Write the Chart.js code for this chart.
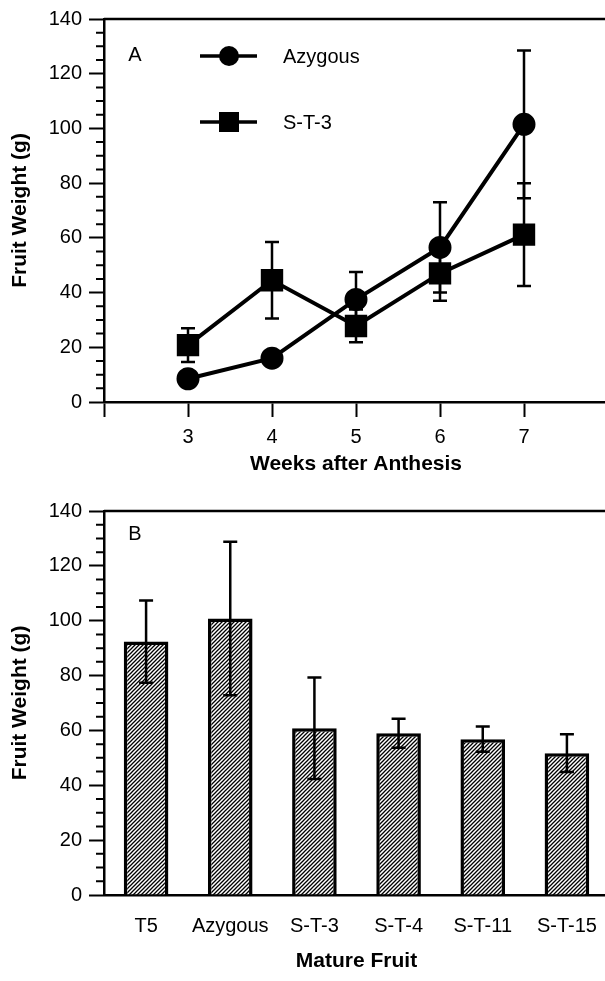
<!DOCTYPE html>
<html>
<head>
<meta charset="utf-8">
<script src="https://cdn.jsdelivr.net/npm/chart.js@4.4.1/dist/chart.umd.min.js"></script>
<style>
html { margin: 0; padding: 0; overflow: hidden; background: #fff; }
body { margin: 0; padding: 0; background: #fff; width: 620px; height: 981px; position: relative; }
canvas { position: absolute; left: 0; }
#chartA { top: 0; }
#chartB { top: 480px; }
</style>
</head>
<body>
<canvas id="chartA" width="620" height="480"></canvas>
<canvas id="chartB" width="620" height="501"></canvas>
<script>
// panel A - weeks after anthesis
const weeks = [3, 4, 5, 6, 7];
const weekTicks = [3, 4, 5, 6, 7];
const azygousWeight = [8.5, 16, 37.5, 56.5, 101.5];
const azygousErr = [1.5, 2, 10, 16.5, 27];
const st3Weight = [20.8, 44.5, 27.8, 47, 61.2];
const st3Err = [6.2, 14, 6, 10, 18.8];

// panel B - mature fruit
const matureLines = ['T5', 'Azygous', 'S-T-3', 'S-T-4', 'S-T-11', 'S-T-15'];
const matureWeight = [92.4, 100.8, 60.8, 59, 56.8, 51.7];
const matureErr = [15, 28, 18.5, 5.3, 4.6, 6.9];

const FONT = "'Liberation Sans', Arial, sans-serif";
Chart.defaults.font.family = FONT;
Chart.defaults.color = '#000';

// hatched fill for the bars
function hatch() {
    const c = document.createElement('canvas');
    c.width = 4; c.height = 4;
    const g = c.getContext('2d');
    g.fillStyle = '#fff';
    g.fillRect(0, 0, 4, 4);
    g.strokeStyle = '#000';
    g.lineWidth = 1.3;
    g.beginPath();
    g.moveTo(0, 4); g.lineTo(4, 0);
    g.moveTo(-1, 1); g.lineTo(1, -1);
    g.moveTo(3, 5); g.lineTo(5, 3);
    g.stroke();
    return g.createPattern(c, 'repeat');
}

function drawErrors(chart) {
    const ctx = chart.ctx;
    const y = chart.scales.y;
    ctx.save();
    ctx.strokeStyle = '#000';
    ctx.lineWidth = 2.5;
    chart.data.datasets.forEach((ds, di) => {
        if (!ds.err) return;
        const meta = chart.getDatasetMeta(di);
        meta.data.forEach((el, i) => {
            const v = ds.values[i], e = ds.err[i];
            const top = y.getPixelForValue(v + e), bot = y.getPixelForValue(v - e);
            ctx.beginPath();
            ctx.moveTo(el.x, top); ctx.lineTo(el.x, bot);
            ctx.moveTo(el.x - 7, top); ctx.lineTo(el.x + 7, top);
            ctx.moveTo(el.x - 7, bot); ctx.lineTo(el.x + 7, bot);
            ctx.stroke();
        });
    });
    ctx.restore();
}

const errorBars = {
    id: 'errorBars',
    beforeDatasetsDraw(chart, args, opts) { if (opts.behind) drawErrors(chart); },
    afterDatasetsDraw(chart, args, opts) { if (!opts.behind) drawErrors(chart); }
};

// frame top line, minor ticks, panel letter and the inset legend
const decor = {
    id: 'decor',
    afterDraw(chart, args, opts) {
        const ctx = chart.ctx;
        const a = chart.chartArea;
        const y = chart.scales.y;
        ctx.save();
        ctx.strokeStyle = '#000';
        ctx.lineWidth = 2.5;
        ctx.beginPath();
        ctx.moveTo(a.left, a.top); ctx.lineTo(a.right, a.top);
        if (opts.rightEdge) {
            ctx.moveTo(a.right, a.top); ctx.lineTo(a.right, a.bottom);
        }
        ctx.stroke();
        ctx.lineWidth = 2;
        ctx.beginPath();
        for (let v = 0; v <= 140; v += 5) {
            if (v % 20 === 0) continue;
            const py = y.getPixelForValue(v);
            ctx.moveTo(a.left - 8, py); ctx.lineTo(a.left, py);
        }
        ctx.stroke();

        ctx.fillStyle = '#000';
        ctx.font = '20px ' + FONT;
        ctx.textBaseline = 'middle';
        ctx.textAlign = 'center';
        ctx.fillText(opts.letter, a.left + 31, a.top + opts.letterY);

        if (opts.legend) {
            ctx.textAlign = 'left';
            ctx.font = '20px ' + FONT;
            chart.data.datasets.forEach((ds, i) => {
                const ly = a.top + 37 + i * 66;
                const cx = a.left + 125;
                ctx.lineWidth = 3.5;
                ctx.beginPath();
                ctx.moveTo(cx - 29, ly); ctx.lineTo(cx + 28, ly);
                ctx.stroke();
                if (ds.pointStyle === 'circle') {
                    ctx.beginPath();
                    ctx.arc(cx, ly, 10, 0, Math.PI * 2);
                    ctx.fill();
                } else {
                    ctx.fillRect(cx - 10, ly - 10, 20, 20);
                }
                ctx.fillText(ds.label, a.left + 179, ly + 1);
            });
        }
        ctx.restore();
    }
};

const yAxis = (width, titlePad) => ({
    min: 0,
    max: 140,
    afterFit: s => { s.width = width; },
    ticks: { stepSize: 20, padding: 7, font: { size: 20 } },
    grid: { drawOnChartArea: false, tickLength: 15, tickWidth: 2, tickColor: '#000' },
    border: { color: '#000', width: 2.5 },
    title: { display: true, text: 'Fruit Weight (g)', font: { size: 21, weight: 'bold' }, padding: { top: titlePad, bottom: 0 } }
});

new Chart(document.getElementById('chartA'), {
    type: 'line',
    data: {
        datasets: [
            {
                label: 'Azygous',
                data: weeks.map((w, i) => ({ x: w, y: azygousWeight[i] })),
                values: azygousWeight,
                err: azygousErr,
                pointStyle: 'circle',
                pointRadius: 9.5,
                borderColor: '#000',
                backgroundColor: '#000',
                borderWidth: 4,
                tension: 0
            },
            {
                label: 'S-T-3',
                data: weeks.map((w, i) => ({ x: w, y: st3Weight[i] })),
                values: st3Weight,
                err: st3Err,
                pointStyle: 'rect',
                pointRadius: 13,
                borderColor: '#000',
                backgroundColor: '#000',
                borderWidth: 4,
                tension: 0
            }
        ]
    },
    options: {
        responsive: false,
        animation: false,
        layout: { autoPadding: false, padding: { top: 18.7, right: 12, left: 0, bottom: 0 } },
        plugins: {
            legend: { display: false },
            tooltip: { enabled: false },
            errorBars: { behind: true },
            decor: { letter: 'A', letterY: 36, legend: true, rightEdge: true }
        },
        scales: {
            x: {
                type: 'linear',
                min: 2,
                max: 8,
                afterFit: s => { s.height = 78; s.paddingLeft = 0; s.paddingRight = 0; },
                afterBuildTicks: s => { s.ticks = [2].concat(weekTicks, [8]).map(v => ({ value: v })); },
                ticks: {
                    padding: 8.5,
                    font: { size: 20 },
                    maxRotation: 0,
                    callback: v => weekTicks.includes(v) ? String(v) : ''
                },
                grid: { drawOnChartArea: false, tickLength: 15, tickWidth: 2, tickColor: '#000' },
                border: { color: '#000', width: 2.5 },
                title: { display: true, text: 'Weeks after Anthesis', font: { size: 21, weight: 'bold' }, padding: { top: 0, bottom: 3.5 } }
            },
            y: yAxis(104, 7.5)
        }
    },
    plugins: [errorBars, decor]
});

new Chart(document.getElementById('chartB'), {
    type: 'bar',
    data: {
        labels: matureLines,
        datasets: [{
            label: 'Mature Fruit',
            data: matureWeight,
            values: matureWeight,
            err: matureErr,
            backgroundColor: hatch(),
            borderColor: '#000',
            borderWidth: 3.5,
            barPercentage: 0.53,
            categoryPercentage: 1
        }]
    },
    options: {
        responsive: false,
        animation: false,
        layout: { autoPadding: false, padding: { top: 31, right: 11, left: 0, bottom: 0 } },
        plugins: {
            legend: { display: false },
            tooltip: { enabled: false },
            errorBars: { behind: false },
            decor: { letter: 'B', letterY: 23, legend: false, rightEdge: false }
        },
        scales: {
            x: {
                afterFit: s => { s.height = 86; s.paddingLeft = 0; s.paddingRight = 0; },
                ticks: { padding: 19.5, font: { size: 20 }, maxRotation: 0, minRotation: 0, autoSkip: false },
                grid: { drawOnChartArea: false, drawTicks: false },
                border: { color: '#000', width: 2.5 },
                title: { display: true, text: 'Mature Fruit', font: { size: 21, weight: 'bold' }, padding: { top: 0, bottom: 7.5 } }
            },
            y: yAxis(104, 7.5)
        }
    },
    plugins: [errorBars, decor]
});
</script>
</body>
</html>
